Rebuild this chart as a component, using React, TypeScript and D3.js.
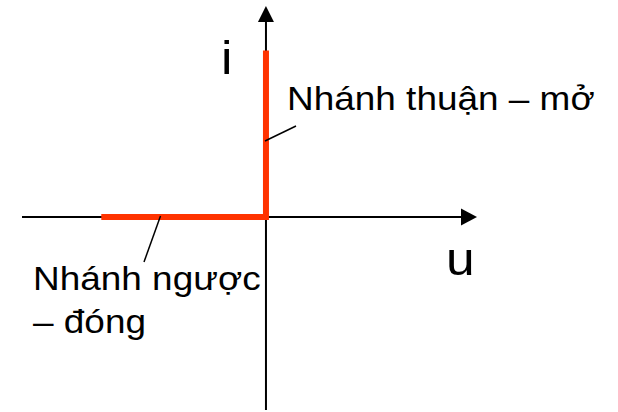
import React from "react";
import * as d3 from "d3";

// axis extents in (u, i) units
const uExtent = [-10, 8.65];
const iExtent = [-11.7, 12.8];
// reverse branch (closed): along u axis, i = 0
const reverseU = [-6.75, 0];
const reverseI = [0, 0];
// forward branch (open): along i axis, u = 0
const forwardU = [0, 0];
const forwardI = [0, 10.1];
// labels
const labelForward = "Nhánh thuận – mở";
const labelReverse1 = "Nhánh ngược";
const labelReverse2 = "– đóng";
const axisLabelI = "i";
const axisLabelU = "u";

const W = 618;
const H = 412;
const SX = 1.12;

export default function App() {
  const x = d3.scaleLinear().domain([uExtent[0], uExtent[1]]).range([22, 477]);
  const y = d3.scaleLinear().domain([iExtent[0], iExtent[1]]).range([410, 6]);
  const line = d3
    .line<[number, number]>()
    .x((d) => x(d[0]))
    .y((d) => y(d[1]));
  const rev = reverseU.map((u, k) => [u, reverseI[k]] as [number, number]);
  const fwd = forwardU.map((u, k) => [u, forwardI[k]] as [number, number]);
  const characteristic = [...rev, ...fwd.slice(1)];
  const x0 = x(0);
  const y0 = y(0);
  const xEnd = x(uExtent[1]);
  const yTop = y(iExtent[1]);
  const font = "'Liberation Sans', Arial, sans-serif";
  const T = (props: { x: number; y: number; size: number; children: string }) => (
    <text
      transform={`translate(${props.x},${props.y}) scale(${SX},1)`}
      fontFamily={font}
      fontSize={props.size}
      fill="#000"
    >
      {props.children}
    </text>
  );
  return (
    <svg
      width={W}
      height={H}
      style={{ position: "absolute", left: 0, top: 0, background: "#fff" }}
    >
      {/* axes */}
      <line x1={x(uExtent[0])} y1={y0} x2={xEnd - 14} y2={y0} stroke="#000" strokeWidth={2} />
      <path d={`M${xEnd},${y0} L${xEnd - 16},${y0 - 8.5} L${xEnd - 16},${y0 + 8.5} Z`} fill="#000" />
      <line x1={x0} y1={y(iExtent[0])} x2={x0} y2={yTop + 14} stroke="#000" strokeWidth={2} />
      <path d={`M${x0},${yTop} L${x0 - 8},${yTop + 16} L${x0 + 8},${yTop + 16} Z`} fill="#000" />
      {/* branches */}
      <path
        d={line(characteristic) || ""}
        stroke="#FF3300"
        strokeWidth={6}
        fill="none"
        strokeLinejoin="miter"
      />
      {/* leader lines */}
      <line x1={265} y1={141} x2={296} y2={126} stroke="#000" strokeWidth={1.5} />
      <line x1={160.5} y1={216} x2={144} y2={262} stroke="#000" strokeWidth={1.5} />
      {/* labels */}
      <T x={221} y={74} size={46}>{axisLabelI}</T>
      <T x={446} y={275} size={46}>{axisLabelU}</T>
      <T x={287} y={110} size={33}>{labelForward}</T>
      <T x={33} y={290} size={33}>{labelReverse1}</T>
      <T x={33} y={333} size={33}>{labelReverse2}</T>
    </svg>
  );
}
